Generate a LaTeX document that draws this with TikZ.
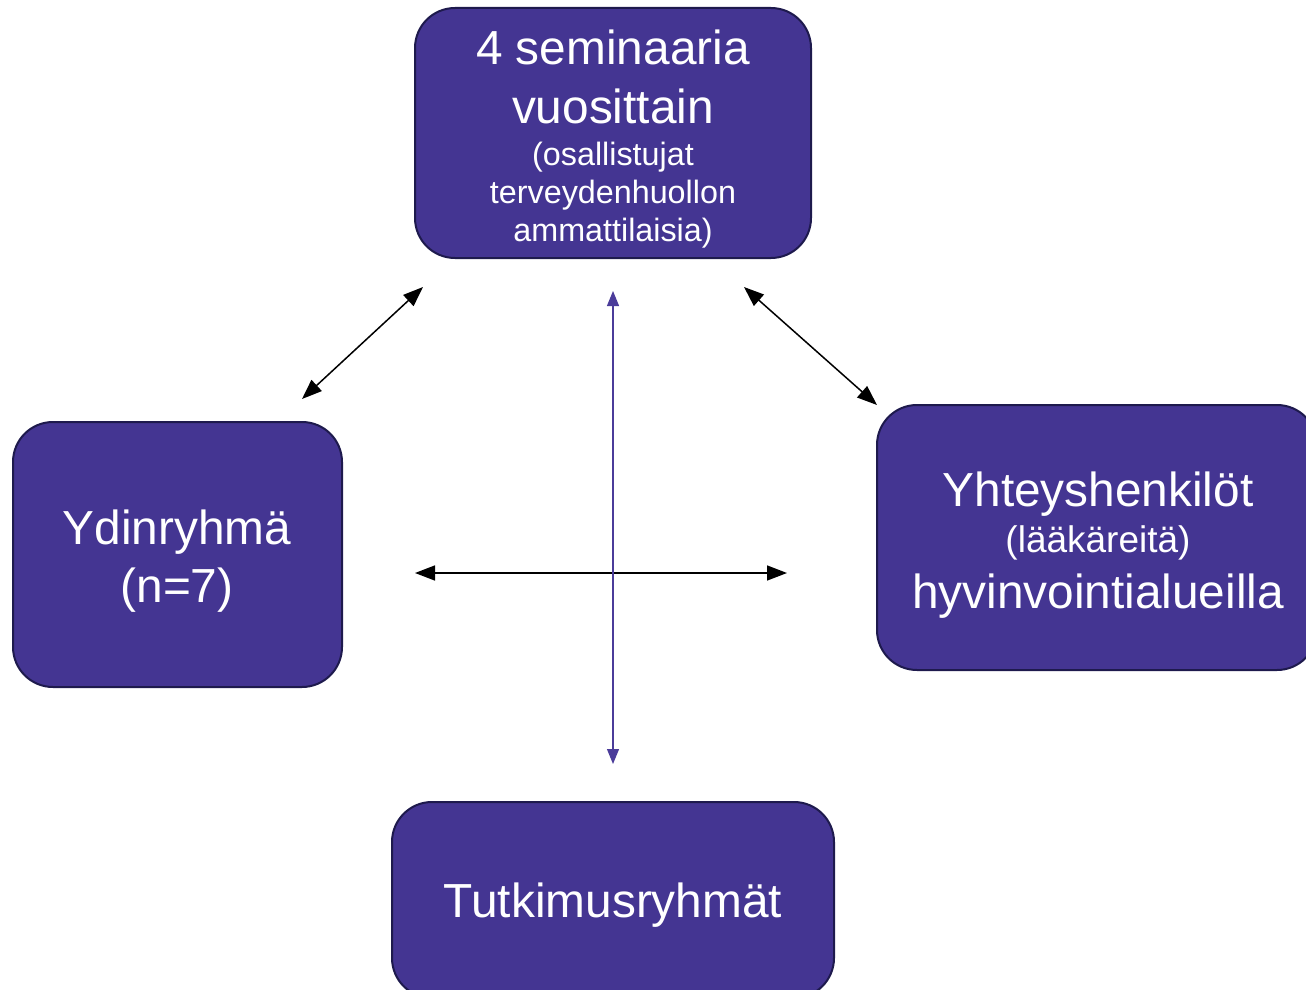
\documentclass[tikz,border=0pt]{standalone}
\usepackage{fontspec}
\setmainfont{Liberation Sans}
\usetikzlibrary{arrows.meta}
\definecolor{boxfill}{HTML}{443592}
\definecolor{boxline}{HTML}{1E1A4D}
\definecolor{vline}{HTML}{4B3C9A}
\tikzset{
  box/.style={draw=boxline, line width=2pt, fill=boxfill, rounded corners=40pt, inner sep=0pt},
  big/.style={text=white, anchor=base, font=\fontsize{47.8}{56}\selectfont, inner sep=0pt},
  small/.style={text=white, anchor=base, font=\fontsize{32.3}{40}\selectfont, inner sep=0pt},
  mid/.style={text=white, anchor=base, font=\fontsize{37}{42}\selectfont, inner sep=0pt},
  conn/.style={line width=1.5pt, {Triangle[length=20pt,width=15pt]}-{Triangle[length=20pt,width=15pt]}}
}
\begin{document}
\begin{tikzpicture}[x=1pt,y=-1pt]
\useasboundingbox (0,0) rectangle (1306,990);
% boxes
\node[box, minimum width=396pt, minimum height=250pt] (top) at (613,133) {};
\node[box, minimum width=329pt, minimum height=265pt] (left) at (177.5,554.5) {};
\node[box, minimum width=440pt, minimum height=265pt] (right) at (1097,537.5) {};
\node[box, minimum width=442pt, minimum height=196pt] (bottom) at (613,900) {};
% texts
\node[big] (t1) at (613,65) {4 seminaaria};
\node[big] (t2) at (613,123) {vuosittain};
\node[small] (t3) at (613,165) {(osallistujat};
\node[small] (t4) at (613,203) {terveydenhuollon};
\node[small] (t5) at (613,241) {ammattilaisia)};
\node[big] (l1) at (177,544) {Ydinryhmä};
\node[big] (l2) at (177,602) {(n=7)};
\node[big] (r1) at (1098,506) {Yhteyshenkilöt};
\node[mid] (r2) at (1098,552) {(lääkäreitä)};
\node[big] (r3) at (1098,608) {hyvinvointialueilla};
\node[big] (b1) at (613,917) {Tutkimusryhmät};
% connector ends
\coordinate (d1a) at (302,399);
\coordinate (d1b) at (423,287);
\coordinate (d2a) at (744,287);
\coordinate (d2b) at (877,405);
\coordinate (va) at (613,291);
\coordinate (vb) at (613,764);
\coordinate (ha) at (415,573);
\coordinate (hb) at (787,573);
\draw[conn] (d1a) -- (d1b);
\draw[conn] (d2a) -- (d2b);
\draw[conn] (ha) -- (hb);
\draw[draw=vline, fill=vline, line width=1.2pt, {Triangle[length=15pt,width=12pt]}-{Triangle[length=15pt,width=12pt]}] (va) -- (vb);
\end{tikzpicture}
\end{document}
